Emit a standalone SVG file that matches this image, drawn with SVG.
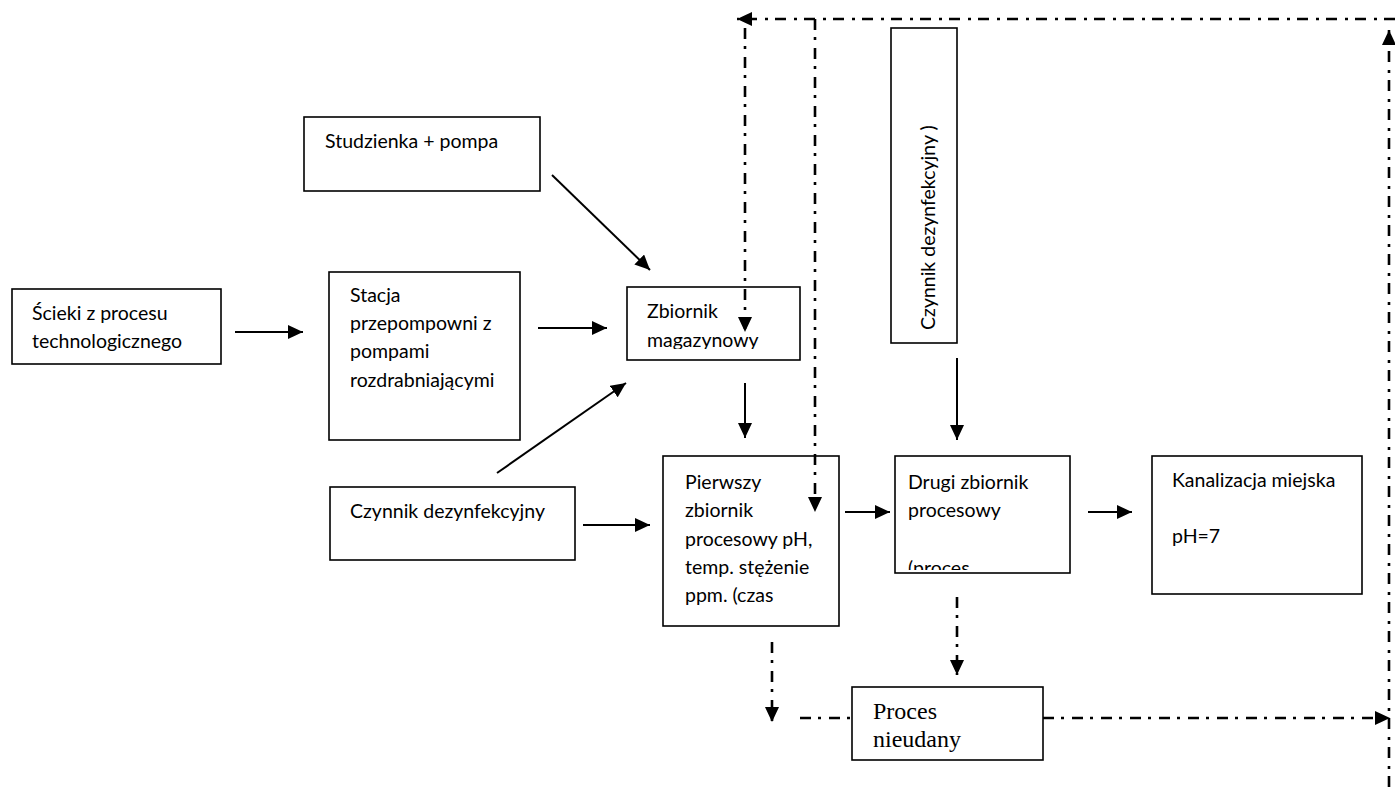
<svg xmlns="http://www.w3.org/2000/svg" width="1395" height="787" viewBox="0 0 1395 787">
<style>
.box{fill:#fff;stroke:#000;stroke-width:1.6}
.t{font-family:Lato,"Open Sans","Liberation Sans",sans-serif;font-size:19.5px;fill:#000}
.ts{font-family:"Liberation Serif","Times New Roman",serif;font-size:24px;fill:#000}
.s{fill:none;stroke:#000;stroke-width:2;marker-end:url(#ah)}
.d{fill:none;stroke:#000;stroke-width:2.6;stroke-dasharray:11 7 3 8}
.da{marker-end:url(#ah)}
</style>
<defs>
<marker id="ah" markerUnits="userSpaceOnUse" markerWidth="15" markerHeight="14" refX="15" refY="7" orient="auto">
<path d="M0,0 L15,7 L0,14 z" fill="#000"/>
</marker>
<clipPath id="clipZ"><rect x="627" y="287" width="173" height="62"/></clipPath>
<clipPath id="clipD"><rect x="895" y="456" width="175" height="114"/></clipPath>
</defs>
<rect width="1395" height="787" fill="#fff"/>

<g id="scieki">
<rect class="box" x="12" y="289" width="209" height="75"/>
<text class="t" x="32" y="320">Ścieki z procesu</text>
<text class="t" x="32" y="348">technologicznego</text>
</g>
<g id="stacja">
<rect class="box" x="329" y="272" width="191" height="168"/>
<text class="t" x="350" y="302">Stacja</text>
<text class="t" x="350" y="330">przepompowni z</text>
<text class="t" x="350" y="358">pompami</text>
<text class="t" x="350" y="387">rozdrabniającymi</text>
</g>
<g id="studzienka">
<rect class="box" x="304" y="117" width="236" height="74"/>
<text class="t" x="325" y="148">Studzienka + pompa</text>
</g>
<g id="czynnik1">
<rect class="box" x="330" y="487" width="245" height="73"/>
<text class="t" x="350" y="518">Czynnik dezynfekcyjny</text>
</g>
<g id="zbiornik">
<rect class="box" x="627" y="287" width="173" height="73"/>
<g clip-path="url(#clipZ)">
<text class="t" x="647" y="318">Zbiornik</text>
<text class="t" x="647" y="347">magazynowy</text>
</g>
</g>
<g id="pierwszy">
<rect class="box" x="663" y="456" width="176" height="170"/>
<text class="t" x="685" y="489">Pierwszy</text>
<text class="t" x="685" y="517">zbiornik</text>
<text class="t" x="685" y="546">procesowy pH,</text>
<text class="t" x="685" y="574">temp. stężenie</text>
<text class="t" x="685" y="602">ppm. (czas</text>
</g>
<g id="czynnik2">
<rect class="box" x="891" y="28" width="66" height="315"/>
<text class="t" transform="translate(935,330) rotate(-90)">Czynnik dezynfekcyjny )</text>
</g>
<g id="drugi">
<rect class="box" x="895" y="456" width="175" height="117"/>
<g clip-path="url(#clipD)">
<text class="t" x="908" y="489">Drugi zbiornik</text>
<text class="t" x="908" y="517">procesowy</text>
<text class="t" x="908" y="575">(proces</text>
</g>
</g>
<g id="kanalizacja">
<rect class="box" x="1152" y="456" width="210" height="138"/>
<text class="t" x="1172" y="487">Kanalizacja miejska</text>
<text class="t" x="1172" y="543">pH=7</text>
</g>
<g id="proces">
<rect class="box" x="852" y="687" width="191" height="73"/>
<text class="ts" x="873" y="719">Proces</text>
<text class="ts" x="873" y="747">nieudany</text>
</g>

<g id="connectors">
<path class="s" d="M235,332 H303"/>
<path class="s" d="M538,328 H607"/>
<path class="s" d="M552,175 L650,270"/>
<path class="s" d="M497,473 L626,383"/>
<path class="s" d="M583,525 H650"/>
<path class="s" d="M745,383 V438"/>
<path class="s" d="M957,358 V440"/>
<path class="s" d="M845,512 H890"/>
<path class="s" d="M1088,512 H1132"/>
<path class="d da" d="M1395,19 H737"/>
<path class="d da" d="M745,28 V332"/>
<path class="d da" d="M815,19 V512"/>
<path class="d da" d="M1389,787 V30"/>
<path class="d" d="M800,718 H852"/>
<path class="d da" d="M1043,718 H1390"/>
<path class="d da" d="M772,642 V722"/>
<path class="d da" d="M957,597 V675"/>
</g>
</svg>
